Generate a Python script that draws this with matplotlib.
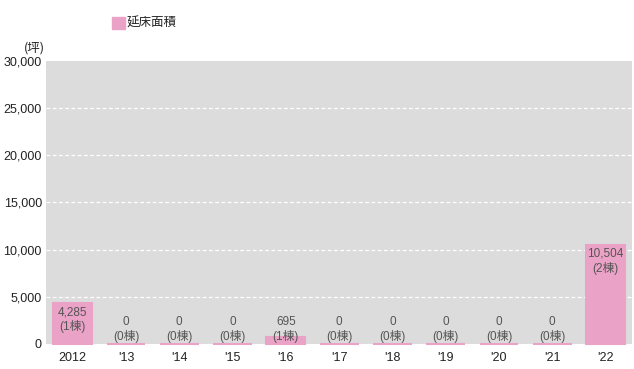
import matplotlib
matplotlib.use('Agg')
import matplotlib.pyplot as plt
from matplotlib.ticker import FuncFormatter

# Floor area (tsubo) and number of buildings per fiscal year
years = ['2012', "'13", "'14", "'15", "'16", "'17", "'18", "'19", "'20", "'21", "'22"]
floor_area = [4285, 0, 0, 0, 695, 0, 0, 0, 0, 0, 10504]
buildings = [1, 0, 0, 0, 1, 0, 0, 0, 0, 0, 2]
y_ticks = [0, 5000, 10000, 15000, 20000, 25000, 30000]

plt.rcParams['font.family'] = ['Liberation Sans', 'Noto Sans CJK JP', 'DejaVu Sans']

BAR = '#eba2c7'
BG = '#dcdcdd'
TXT = '#222222'
LBL = '#555555'

fig = plt.figure(figsize=(6.34, 3.69), dpi=100)
ax = fig.add_axes([0.0726, 0.068, 0.9245, 0.767])
ax.set_facecolor(BG)

x = range(len(years))
bars = ax.bar(x, floor_area, width=0.73, color=BAR, edgecolor=BAR, linewidth=1.5, zorder=3)
for b in bars:
    b.set_clip_on(False)  # keep the zero-height bars visible as a thin strip

ax.set_xlim(-0.5, len(years) - 0.5)
ax.set_ylim(0, 30000)
ax.set_yticks(y_ticks)
ax.yaxis.set_major_formatter(FuncFormatter(lambda v, p: f'{int(v):,}'))
ax.set_xticks(list(x))
ax.set_xticklabels(years)
ax.tick_params(length=0, labelsize=9, colors=TXT, pad=3)
ax.tick_params(axis='x', pad=6)

for v in y_ticks[1:-1]:
    ax.axhline(v, color='white', lw=0.9, ls=(0, (3, 2)), zorder=1)

for s in ax.spines.values():
    s.set_visible(False)

# two-line value labels: area and building count
for i, (v, n) in enumerate(zip(floor_area, buildings)):
    top = max(v - 300, 3000)
    ax.text(i, top, f'{v:,}\n({n}棟)', ha='center', va='top', fontsize=8.5,
            color=LBL, linespacing=1.2, zorder=4)

# legend and unit
fig.patches.append(plt.Rectangle((112 / 634, 1 - 29 / 369), 13 / 634, 12 / 369,
                                 transform=fig.transFigure, color=BAR))
fig.text(127 / 634, 1 - 23 / 369, '延床面積', fontsize=9, color=TXT, va='center',
         family=['Noto Sans CJK JP', 'DejaVu Sans'])
fig.text(45 / 634, 1 - 48 / 369, '(坪)', fontsize=9, color=TXT, va='center', ha='right',
         family=['Noto Sans CJK JP', 'DejaVu Sans'])

fig.savefig('out.png', dpi=100)
